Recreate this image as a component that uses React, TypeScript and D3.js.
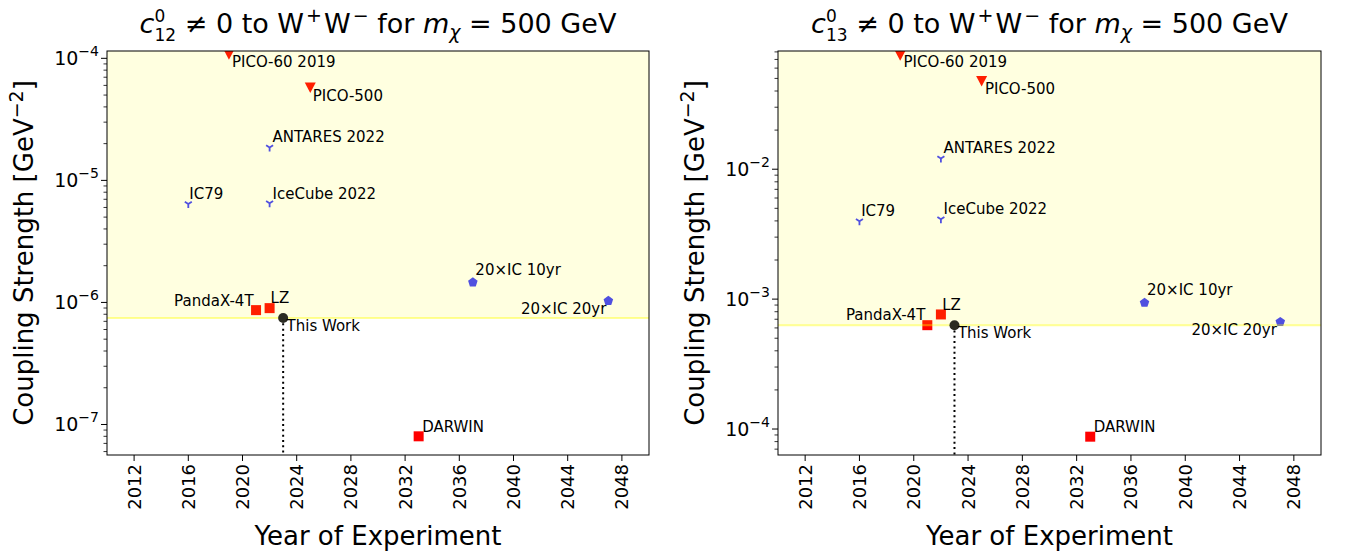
import React, { useRef, useEffect } from 'react';
import * as d3 from 'd3';

const experiments = ['PICO-60 2019', 'PICO-500', 'ANTARES 2022', 'IC79', 'IceCube 2022', 'PandaX-4T', 'LZ', 'DARWIN', '20×IC 10yr', '20×IC 20yr'];
const years = [2019, 2025, 2022, 2016, 2022, 2021, 2022, 2033, 2037, 2047];
const markerKinds = ['triDown', 'triDown', 'tri', 'tri', 'tri', 'square', 'square', 'square', 'pentagon', 'pentagon'];
const c12Limits = [1.08e-4, 5.77e-5, 1.86e-5, 6.4e-6, 6.5e-6, 8.65e-7, 8.98e-7, 8.0e-8, 1.46e-6, 1.03e-6];
const c13Limits = [0.0753, 0.0477, 0.0121, 0.00398, 0.00412, 6.3e-4, 7.62e-4, 8.73e-5, 9.37e-4, 6.68e-4];
const thisWorkYear = 2023;
const thisWorkC12 = 7.45e-7;
const thisWorkC13 = 6.3e-4;
const yearTicks = [2012, 2016, 2020, 2024, 2028, 2032, 2036, 2040, 2044, 2048];

// label offsets in px: [dx, dy, anchor]
const offsets12: [number, number, string][] = [
  [3, 13, 'start'], [2.5, 13.5, 'start'], [3, -5, 'start'], [1, -5, 'start'], [3, -4.5, 'start'],
  [-2.5, -4.5, 'end'], [1, -5, 'start'], [3.5, -4.5, 'start'], [2.5, -7, 'start'], [-2, 13, 'end'],
];
const offsets13: [number, number, string][] = [
  [3.3, 12, 'start'], [3.3, 13, 'start'], [2.7, -5, 'start'], [1.7, -5, 'start'], [2.7, -5, 'start'],
  [-2, -5, 'end'], [1.3, -4.3, 'start'], [3.5, -5, 'start'], [2.5, -7.7, 'start'], [-3.4, 13.3, 'end'],
];

const RED = '#ff0000';
const BLUE = '#3838ff';

function markerPath(kind: string) {
  if (kind === 'square') return 'M-5,-5H5V5H-5Z';
  if (kind === 'triDown') return 'M-5.5,-5L5.5,-5L0,5.5Z';
  if (kind === 'tri') return 'M0,0V4M0,0L-3.5,-2.2M0,0L3.5,-2.2';
  const pts = d3.range(5).map(i => {
    const a = -Math.PI / 2 + (i * 2 * Math.PI) / 5;
    return [5 * Math.cos(a), 5 * Math.sin(a)];
  });
  return 'M' + pts.map(p => p.join(',')).join('L') + 'Z';
}

function drawPanel(svg: any, cfg: any) {
  const { left, right, top, bottom, yDomain, limits, thisWork, offs, sub, id, yMajors } = cfg;
  const x = d3.scaleLinear().domain([2010, 2050]).range([left, right]);
  const y = d3.scaleLog().domain(yDomain).range([bottom, top]);
  const g = svg.append('g');

  g.append('clipPath').attr('id', id).append('rect')
    .attr('x', left).attr('y', top).attr('width', right - left).attr('height', bottom - top);
  const plot = g.append('g').attr('clip-path', `url(#${id})`);

  experiments.forEach((name, i) => {
    const k = markerKinds[i];
    const color = k === 'tri' || k === 'pentagon' ? BLUE : RED;
    plot.append('path')
      .attr('d', markerPath(k))
      .attr('transform', `translate(${x(years[i])},${y(limits[i])})`)
      .attr('fill', k === 'tri' ? 'none' : color)
      .attr('stroke', k === 'tri' ? color : 'none')
      .attr('stroke-width', 1.8);
  });

  // excluded region overlay
  const ty = y(thisWork);
  plot.append('rect')
    .attr('x', left).attr('y', top).attr('width', right - left).attr('height', ty - top)
    .attr('fill', 'yellow').attr('fill-opacity', 0.12);
  plot.append('line')
    .attr('x1', left).attr('x2', right).attr('y1', ty).attr('y2', ty)
    .attr('stroke', 'yellow').attr('stroke-opacity', 0.4).attr('stroke-width', 2);

  plot.append('line')
    .attr('x1', x(thisWorkYear)).attr('x2', x(thisWorkYear)).attr('y1', ty).attr('y2', bottom)
    .attr('stroke', 'black').attr('stroke-width', 2).attr('stroke-dasharray', '2,3.3');
  plot.append('circle')
    .attr('cx', x(thisWorkYear)).attr('cy', ty).attr('r', 5).attr('fill', '#2b2b22');

  experiments.forEach((name, i) => {
    const [dx, dy, anchor] = offs[i];
    g.append('text')
      .attr('x', x(years[i]) + dx).attr('y', y(limits[i]) + dy)
      .attr('text-anchor', anchor)
      .attr('font-size', 15)
      .text(name);
  });
  g.append('text')
    .attr('x', x(thisWorkYear) + 3.4).attr('y', ty + 13)
    .attr('font-size', 15).text('This Work');

  // frame
  g.append('rect')
    .attr('x', left).attr('y', top).attr('width', right - left).attr('height', bottom - top)
    .attr('fill', 'none').attr('stroke', 'black').attr('stroke-width', 1);

  // x ticks
  yearTicks.forEach(t => {
    g.append('line').attr('x1', x(t)).attr('x2', x(t)).attr('y1', bottom).attr('y2', bottom + 6)
      .attr('stroke', 'black');
    g.append('text')
      .attr('transform', `translate(${x(t) + 6.5},${bottom + 9}) rotate(-90)`)
      .attr('text-anchor', 'end').attr('font-size', 18).text(String(t));
  });

  // y ticks (log)
  const [lo, hi] = yDomain;
  for (let e = Math.floor(Math.log10(lo)); e <= Math.ceil(Math.log10(hi)); e++) {
    for (let m = 1; m < 10; m++) {
      const v = m * Math.pow(10, e);
      if (v < lo || v > hi) continue;
      const len = m === 1 ? 6 : 3.5;
      g.append('line').attr('x1', left - len).attr('x2', left).attr('y1', y(v)).attr('y2', y(v))
        .attr('stroke', 'black').attr('stroke-width', m === 1 ? 1 : 0.8);
      if (m === 1 && yMajors.includes(e)) {
        const t = g.append('text')
          .attr('x', left - 8).attr('y', y(v) + 7)
          .attr('text-anchor', 'end').attr('font-size', 19);
        t.append('tspan').text('10');
        t.append('tspan').attr('font-size', 14).attr('dy', -9).text('−' + String(-e));
      }
    }
  }

  // axis labels
  const cx = (left + right) / 2;
  g.append('text').attr('x', cx).attr('y', 545).attr('text-anchor', 'middle')
    .attr('font-size', 26).text('Year of Experiment');
  const yl = g.append('text')
    .attr('transform', `translate(${left - 74},${(top + bottom) / 2}) rotate(-90)`)
    .attr('text-anchor', 'middle').attr('font-size', 26);
  yl.append('tspan').text('Coupling Strength [GeV');
  yl.append('tspan').attr('font-size', 19).attr('dy', -10).text('−2');
  yl.append('tspan').attr('dy', 10).text(']');

  // title
  const title = g.append('text').attr('x', cx).attr('y', 33).attr('text-anchor', 'middle')
    .attr('font-size', 27);
  title.append('tspan').attr('font-style', 'italic').text('c');
  title.append('tspan').attr('font-size', 17).attr('dy', -11).text('0');
  title.append('tspan').attr('font-size', 17).attr('dx', -10.8).attr('dy', 19).text(sub);
  title.append('tspan').attr('dy', -8).text(' ≠ 0 to W');
  title.append('tspan').attr('font-size', 19).attr('dx', 2).attr('dy', -11).text('+');
  title.append('tspan').attr('dx', 2).attr('dy', 11).text('W');
  title.append('tspan').attr('font-size', 19).attr('dx', 2).attr('dy', -11).text('−');
  title.append('tspan').attr('dy', 11).text('  for ');
  title.append('tspan').attr('font-style', 'italic').text('m');
  title.append('tspan').attr('font-size', 19).attr('font-style', 'italic').attr('dy', 6).text('χ');
  title.append('tspan').attr('dy', -6).text(' = 500 GeV');
}

function App() {
  const svgRef = useRef<SVGSVGElement>(null);

  useEffect(() => {
    const svg = d3.select(svgRef.current);
    svg.selectAll('*').remove();
    drawPanel(svg, {
      left: 107, right: 649, top: 51, bottom: 455,
      yDomain: [Math.pow(10, -7.25), Math.pow(10, -3.94)],
      limits: c12Limits, thisWork: thisWorkC12, offs: offsets12, sub: '12', id: 'clipL',
      yMajors: [-7, -6, -5, -4],
    });
    drawPanel(svg, {
      left: 778, right: 1321, top: 51, bottom: 455,
      yDomain: [Math.pow(10, -4.2), Math.pow(10, -1.09)],
      limits: c13Limits, thisWork: thisWorkC13, offs: offsets13, sub: '13', id: 'clipR',
      yMajors: [-4, -3, -2],
    });
  }, []);

  return (
    <svg ref={svgRef} width={1348} height={559}
      style={{ position: 'absolute', left: 0, top: 0, background: 'white', fontFamily: 'DejaVu Sans' }} />
  );
}

export default App;
